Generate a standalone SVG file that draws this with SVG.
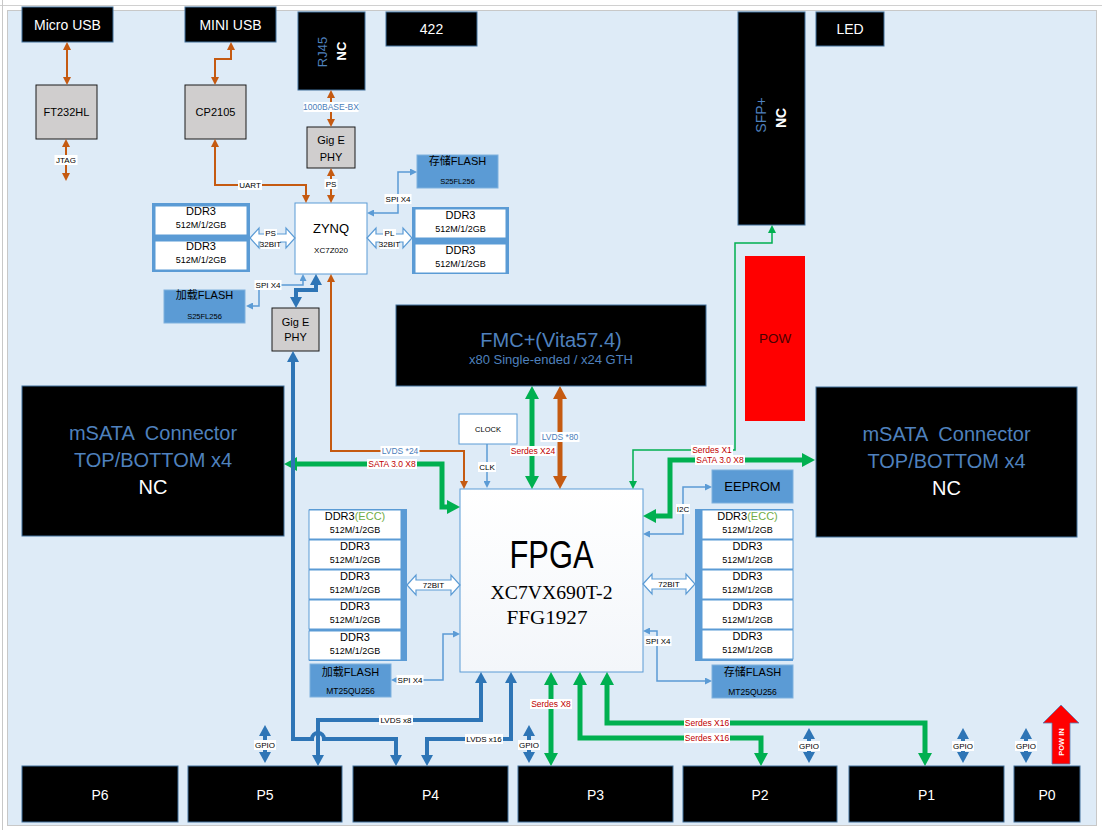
<svg xmlns="http://www.w3.org/2000/svg" width="1102" height="830" viewBox="0 0 1102 830">
<style>
text{font-family:"Liberation Sans","Noto Sans CJK SC",sans-serif}
.blk{fill:#000;stroke:#41719c;stroke-width:1}
.gry{fill:#d0cece;stroke:#1a1a1a;stroke-width:1}
.wb{fill:#fff;stroke:#5b9bd5;stroke-width:1}
.fl{fill:#5b9bd5;stroke:#7fb1de;stroke-width:1}
.frm{fill:#5b9bd5;stroke:none}
.m{text-anchor:middle}
.w{fill:#fff}
.bl{fill:#4f81bd}
.lab{font-size:8px;text-anchor:middle;fill:#000}
.rl{font-size:8.5px;text-anchor:middle;fill:#c00000}
.bll{font-size:8.5px;text-anchor:middle;fill:#4a7ebb}
.bg{fill:#fff}
.o{fill:none;stroke:#c55a11;stroke-width:2}
.oT{fill:none;stroke:#c55a11;stroke-width:5}
.g{fill:none;stroke:#00b050;stroke-width:5}
.gs{fill:none;stroke:#00b050;stroke-width:1.5}
.b{fill:none;stroke:#2e75b6;stroke-width:4}
.bs{fill:none;stroke:#5b9bd5;stroke-width:1.5}
.ha{fill:#fff;stroke:#5b9bd5;stroke-width:1.2}
.d1{font-size:11px;text-anchor:middle}
.d2{font-size:9px;text-anchor:middle}
</style>
<defs>
<marker id="ao" markerUnits="userSpaceOnUse" viewBox="0 0 8 8" markerWidth="8" markerHeight="8" refX="0" refY="4" orient="auto-start-reverse"><path d="M0,0L8,4L0,8z" fill="#c55a11"/></marker>
<marker id="aoT" markerUnits="userSpaceOnUse" viewBox="0 0 13 14" markerWidth="13" markerHeight="14" refX="0" refY="7" orient="auto-start-reverse"><path d="M0,0L13,7L0,14z" fill="#c55a11"/></marker>
<marker id="ag" markerUnits="userSpaceOnUse" viewBox="0 0 13 14" markerWidth="13" markerHeight="14" refX="0" refY="7" orient="auto-start-reverse"><path d="M0,0L13,7L0,14z" fill="#00b050"/></marker>
<marker id="ags" markerUnits="userSpaceOnUse" viewBox="0 0 8 8" markerWidth="8" markerHeight="8" refX="0" refY="4" orient="auto-start-reverse"><path d="M0,0L8,4L0,8z" fill="#00b050"/></marker>
<marker id="ab" markerUnits="userSpaceOnUse" viewBox="0 0 11 12" markerWidth="11" markerHeight="12" refX="0" refY="6" orient="auto-start-reverse"><path d="M0,0L11,6L0,12z" fill="#2e75b6"/></marker>
<marker id="abs" markerUnits="userSpaceOnUse" viewBox="0 0 7 7" markerWidth="7" markerHeight="7" refX="0" refY="3.5" orient="auto-start-reverse"><path d="M0,0L7,3.5L0,7z" fill="#5b9bd5"/></marker>
<linearGradient id="fg" x1="0" y1="0" x2="0" y2="1"><stop offset="0" stop-color="#ffffff"/><stop offset="1" stop-color="#f3f6fa"/></linearGradient>
</defs>

<rect x="0" y="0" width="1102" height="830" fill="#fff"/>
<line x1="0" y1="5.5" x2="1102" y2="5.5" stroke="#d0d0d0"/>
<line x1="2.5" y1="0" x2="2.5" y2="830" stroke="#c8c8c8"/>
<rect x="7.5" y="10.5" width="1089" height="815" fill="#deebf7" stroke="#c8c8c8"/>

<!-- top connectors -->
<g id="node-microusb"><rect class="blk" x="22" y="7" width="91" height="35"/><text class="m w" x="67.5" y="30" font-size="14">Micro USB</text></g>
<g id="node-miniusb"><rect class="blk" x="185" y="7" width="91" height="35"/><text class="m w" x="230.5" y="30" font-size="14">MINI USB</text></g>
<g id="node-rj45"><rect class="blk" x="298" y="12" width="67" height="78"/>
<text class="m bl" font-size="13" transform="translate(327,52) rotate(-90)">RJ45</text>
<text class="m w" font-size="13" font-weight="bold" transform="translate(346,51) rotate(-90)">NC</text></g>
<g id="node-422"><rect class="blk" x="386" y="12" width="91" height="34"/><text class="m w" x="431.5" y="34" font-size="14">422</text></g>
<g id="node-sfp"><rect class="blk" x="738" y="12" width="67" height="213"/>
<text class="m bl" font-size="14" transform="translate(766,115) rotate(-90)">SFP+</text>
<text class="m w" font-size="14" font-weight="bold" transform="translate(786,118) rotate(-90)">NC</text></g>
<g id="node-led"><rect class="blk" x="816" y="12" width="68" height="34"/><text class="m w" x="850" y="34" font-size="14">LED</text></g>

<g id="node-ft232"><rect class="gry" x="36" y="85" width="61" height="54"/><text class="m" x="66.5" y="116" font-size="11">FT232HL</text></g>
<g id="node-cp2105"><rect class="gry" x="185" y="85" width="61" height="54"/><text class="m" x="215.5" y="116" font-size="11">CP2105</text></g>
<g id="node-gige1"><rect class="gry" x="307" y="127" width="48" height="41"/><text class="m" x="331" y="144" font-size="11">Gig E</text><text class="m" x="331" y="161" font-size="11">PHY</text></g>
<g id="node-gige2"><rect class="gry" x="272" y="308" width="47" height="43"/><text class="m" x="295.5" y="326" font-size="11">Gig E</text><text class="m" x="295.5" y="341" font-size="11">PHY</text></g>

<g id="node-zynq"><rect class="wb" x="295" y="203" width="72" height="71"/><text class="m" x="331" y="233" font-size="13">ZYNQ</text><text class="m" x="331" y="253" font-size="8">XC7Z020</text></g>

<g id="node-flash-top"><rect class="fl" x="417" y="155" width="81" height="33"/><text class="m" x="457.5" y="165" font-size="11">存储FLASH</text><text class="m" x="457.5" y="184" font-size="7.5">S25FL256</text></g>
<g id="node-flash-zl"><rect class="fl" x="164" y="290" width="81" height="33"/><text class="m" x="204.5" y="299" font-size="11">加载FLASH</text><text class="m" x="204.5" y="319" font-size="7.5">S25FL256</text></g>

<g id="node-ddr-ps">
<rect class="frm" x="152" y="203" width="98" height="69"/>
<rect class="wb" x="155" y="206" width="92" height="29"/><text class="d1" x="201" y="215">DDR3</text><text class="d2" x="201" y="228">512M/1/2GB</text>
<rect class="wb" x="155" y="241" width="92" height="29"/><text class="d1" x="201" y="250">DDR3</text><text class="d2" x="201" y="263">512M/1/2GB</text>
</g>
<g id="node-ddr-pl">
<rect class="frm" x="412" y="207" width="97" height="67"/>
<rect class="wb" x="415" y="209" width="91" height="29"/><text class="d1" x="460.5" y="219">DDR3</text><text class="d2" x="460.5" y="232">512M/1/2GB</text>
<rect class="wb" x="415" y="244" width="91" height="29"/><text class="d1" x="460.5" y="254">DDR3</text><text class="d2" x="460.5" y="267">512M/1/2GB</text>
</g>

<g id="node-fmc"><rect class="blk" x="396" y="305" width="310" height="81"/><text class="m bl" x="551" y="347" font-size="20">FMC+(Vita57.4)</text><text class="m bl" x="551" y="364" font-size="13">x80 Single-ended / x24 GTH</text></g>

<g id="node-pow"><rect x="745" y="256" width="60" height="165" fill="#ff0000"/><text class="m" x="775" y="343" font-size="13.5" fill="#4a0000">POW</text></g>

<g id="node-msata-l"><rect class="blk" x="22" y="386" width="262" height="150"/>
<text class="m bl" x="153" y="440" font-size="20" xml:space="preserve">mSATA  Connector</text>
<text class="m bl" x="153" y="467" font-size="20">TOP/BOTTOM x4</text>
<text class="m w" x="153" y="494" font-size="20">NC</text></g>
<g id="node-msata-r"><rect class="blk" x="816" y="387" width="261" height="150"/>
<text class="m bl" x="946.5" y="441" font-size="20" xml:space="preserve">mSATA  Connector</text>
<text class="m bl" x="946.5" y="468" font-size="20">TOP/BOTTOM x4</text>
<text class="m w" x="946.5" y="495" font-size="20">NC</text></g>

<g id="node-clock"><rect class="wb" x="459" y="414" width="58" height="30"/><text class="m" x="488" y="432" font-size="7.5">CLOCK</text></g>

<g id="node-fpga"><rect x="460" y="489" width="183" height="183" fill="url(#fg)" stroke="#5b9bd5"/>
<text class="m" x="551.5" y="568" font-size="38" textLength="84" lengthAdjust="spacingAndGlyphs">FPGA</text>
<text class="m" x="551.5" y="599" font-size="19" style="font-family:'Liberation Serif',serif" textLength="122" lengthAdjust="spacingAndGlyphs">XC7VX690T-2</text>
<text class="m" x="547" y="624" font-size="19" style="font-family:'Liberation Serif',serif" textLength="81" lengthAdjust="spacingAndGlyphs">FFG1927</text></g>

<g id="node-eeprom"><rect class="fl" x="712" y="470" width="81" height="33"/><text class="m" x="752.5" y="491" font-size="13">EEPROM</text></g>

<g id="node-ddr-l">
<rect class="frm" x="309" y="509" width="98" height="152"/>
<rect class="wb" x="309" y="510" width="92" height="29"/><text class="d1" x="355" y="520">DDR3<tspan fill="#70ad47">(ECC)</tspan></text><text class="d2" x="355" y="533">512M/1/2GB</text>
<rect class="wb" x="309" y="540" width="92" height="29"/><text class="d1" x="355" y="550">DDR3</text><text class="d2" x="355" y="563">512M/1/2GB</text>
<rect class="wb" x="309" y="570" width="92" height="29"/><text class="d1" x="355" y="580">DDR3</text><text class="d2" x="355" y="593">512M/1/2GB</text>
<rect class="wb" x="309" y="600" width="92" height="29"/><text class="d1" x="355" y="610">DDR3</text><text class="d2" x="355" y="623">512M/1/2GB</text>
<rect class="wb" x="309" y="631" width="92" height="29"/><text class="d1" x="355" y="641">DDR3</text><text class="d2" x="355" y="654">512M/1/2GB</text>
</g>
<g id="node-ddr-r">
<rect class="frm" x="695" y="509" width="98" height="152"/>
<rect class="wb" x="702" y="510" width="91" height="29"/><text class="d1" x="747.5" y="520">DDR3<tspan fill="#70ad47">(ECC)</tspan></text><text class="d2" x="747.5" y="533">512M/1/2GB</text>
<rect class="wb" x="702" y="540" width="91" height="29"/><text class="d1" x="747.5" y="550">DDR3</text><text class="d2" x="747.5" y="563">512M/1/2GB</text>
<rect class="wb" x="702" y="570" width="91" height="29"/><text class="d1" x="747.5" y="580">DDR3</text><text class="d2" x="747.5" y="593">512M/1/2GB</text>
<rect class="wb" x="702" y="600" width="91" height="29"/><text class="d1" x="747.5" y="610">DDR3</text><text class="d2" x="747.5" y="623">512M/1/2GB</text>
<rect class="wb" x="702" y="630" width="91" height="29"/><text class="d1" x="747.5" y="640">DDR3</text><text class="d2" x="747.5" y="653">512M/1/2GB</text>
</g>

<g id="node-flash-fl"><rect class="fl" x="310" y="664" width="81" height="33"/><text class="m" x="350.5" y="676" font-size="11">加载FLASH</text><text class="m" x="350.5" y="694" font-size="8.5">MT25QU256</text></g>
<g id="node-flash-fr"><rect class="fl" x="712" y="665" width="81" height="33"/><text class="m" x="752.5" y="676" font-size="11">存储FLASH</text><text class="m" x="752.5" y="695" font-size="8.5">MT25QU256</text></g>

<g id="node-p6"><rect class="blk" x="22" y="766" width="156" height="56"/><text class="m w" x="100" y="800" font-size="14">P6</text></g>
<g id="node-p5"><rect class="blk" x="188" y="766" width="154" height="56"/><text class="m w" x="265" y="800" font-size="14">P5</text></g>
<g id="node-p4"><rect class="blk" x="353" y="766" width="155" height="56"/><text class="m w" x="430.5" y="800" font-size="14">P4</text></g>
<g id="node-p3"><rect class="blk" x="518" y="766" width="155" height="56"/><text class="m w" x="595.5" y="800" font-size="14">P3</text></g>
<g id="node-p2"><rect class="blk" x="683" y="766" width="154" height="56"/><text class="m w" x="760" y="800" font-size="14">P2</text></g>
<g id="node-p1"><rect class="blk" x="849" y="766" width="155" height="56"/><text class="m w" x="926.5" y="800" font-size="14">P1</text></g>
<g id="node-p0"><rect class="blk" x="1014" y="766" width="66" height="56"/><text class="m w" x="1047" y="800" font-size="14">P0</text></g>

<g id="node-powin"><polygon points="1061,705 1079,723 1070,723 1070,764 1052,764 1052,723 1043,723" fill="#ff0000" stroke="#5a7fb5" stroke-width="0.8"/>
<text class="m w" font-size="7.5" font-weight="bold" transform="translate(1064,742) rotate(-90)">POW IN</text></g>

<g id="connectors">
<!-- orange -->
<path class="o" d="M67,50V77" marker-start="url(#ao)" marker-end="url(#ao)"/>
<path class="o" d="M66,147V173" marker-start="url(#ao)" marker-end="url(#ao)"/>
<path class="o" d="M231,50V59H215V77" marker-start="url(#ao)" marker-end="url(#ao)"/>
<path class="o" d="M331,98V119" marker-start="url(#ao)" marker-end="url(#ao)"/>
<path class="o" d="M215,147V185H306V195" marker-start="url(#ao)" marker-end="url(#ao)"/>
<path class="o" d="M331,176V195" marker-start="url(#ao)" marker-end="url(#ao)"/>
<path class="o" d="M331,282V451H464V481" marker-start="url(#ao)" marker-end="url(#ao)"/>
<path class="oT" d="M560,399V476" marker-start="url(#aoT)" marker-end="url(#aoT)"/>
<!-- green -->
<path class="g" d="M532,399V476" marker-start="url(#ag)" marker-end="url(#ag)"/>
<path class="g" d="M297,464H442V507H447" marker-start="url(#ag)" marker-end="url(#ag)"/>
<path class="g" d="M656,516H670V460H802" marker-start="url(#ag)" marker-end="url(#ag)"/>
<path class="g" d="M551,685V753" marker-start="url(#ag)" marker-end="url(#ag)"/>
<path class="g" d="M607,685V723H925V753" marker-start="url(#ag)" marker-end="url(#ag)"/>
<path class="g" d="M580,685V738H761V753" marker-start="url(#ag)" marker-end="url(#ag)"/>
<path class="gs" d="M633,481V450H735V243H772V233" marker-start="url(#ags)" marker-end="url(#ags)"/>
<!-- blue thick -->
<path class="b" d="M316,285V290H296V297" marker-start="url(#ab)" marker-end="url(#ab)"/>
<path class="b" d="M293,362V739H312A6,6 0 0 1 324,739H396V755" marker-start="url(#ab)" marker-end="url(#ab)"/>
<path class="b" d="M481,683V720H318V755" marker-start="url(#ab)" marker-end="url(#ab)"/>
<path class="b" d="M511,683V739H427V755" marker-start="url(#ab)" marker-end="url(#ab)"/>
<path class="b" d="M265,736V752" marker-start="url(#ab)" marker-end="url(#ab)"/>
<path class="b" d="M529,736V752" marker-start="url(#ab)" marker-end="url(#ab)"/>
<path class="b" d="M809,739V752" marker-start="url(#ab)" marker-end="url(#ab)"/>
<path class="b" d="M963,739V752" marker-start="url(#ab)" marker-end="url(#ab)"/>
<path class="b" d="M1026,739V752" marker-start="url(#ab)" marker-end="url(#ab)"/>
<!-- blue thin -->
<path class="bs" d="M374,213H398V172H410" marker-start="url(#abs)" marker-end="url(#abs)"/>
<path class="bs" d="M303,281V285H259V306H253" marker-start="url(#abs)" marker-end="url(#abs)"/>
<path class="bs" d="M487,444V481" marker-end="url(#abs)"/>
<path class="bs" d="M453,634H443V680H398" marker-start="url(#abs)" marker-end="url(#abs)"/>
<path class="bs" d="M650,534H683V487H705" marker-start="url(#abs)" marker-end="url(#abs)"/>
<path class="bs" d="M650,631H657V681H705" marker-start="url(#abs)" marker-end="url(#abs)"/>
<!-- hollow bus arrows -->
<polygon class="ha" points="250,238 259,228 259,234 286,234 286,228 295,238 286,248 286,242 259,242 259,248"/>
<polygon class="ha" points="367,238 376,228 376,234 403,234 403,228 412,238 403,248 403,242 376,242 376,248"/>
<polygon class="ha" points="407,585 416,575 416,580 451,580 451,575 460,585 451,595 451,590 416,590 416,595"/>
<polygon class="ha" points="643,584 652,574 652,579 686,579 686,574 695,584 686,594 686,589 652,589 652,594"/>

<!-- labels -->
<rect class="bg" x="54.5" y="155" width="23" height="10"/><text class="lab" x="66" y="163">JTAG</text>
<rect class="bg" x="238" y="180" width="24" height="10"/><text class="lab" x="250" y="188">UART</text>
<rect class="bg" x="303.5" y="102" width="55" height="10"/><text class="bll" x="331" y="110" font-size="8">1000BASE-BX</text>
<rect class="bg" x="324.5" y="179" width="13" height="10"/><text class="lab" x="331" y="187">PS</text>
<rect class="bg" x="384.5" y="194" width="27" height="10"/><text class="lab" x="398" y="202">SPI X4</text>
<rect class="bg" x="254.5" y="280" width="27" height="10"/><text class="lab" x="268" y="288">SPI X4</text>
<rect class="bg" x="264" y="229" width="13" height="9"/><text class="lab" x="270.5" y="236">PS</text>
<rect class="bg" x="261" y="240" width="19" height="9"/><text class="lab" x="270.5" y="247" font-size="7.5">32BIT</text>
<rect class="bg" x="383" y="229" width="13" height="9"/><text class="lab" x="389.5" y="236">PL</text>
<rect class="bg" x="380" y="240" width="19" height="9"/><text class="lab" x="389.5" y="247" font-size="7.5">32BIT</text>
<text class="lab" x="433.5" y="588" font-size="7.5">72BIT</text>
<text class="lab" x="669" y="587" font-size="7.5">72BIT</text>
<rect class="bg" x="380.5" y="446" width="39" height="10"/><text class="bll" x="400" y="454">LVDS *24</text>
<rect class="bg" x="367" y="459" width="50" height="10"/><text class="rl" x="392" y="467" font-size="8.3">SATA 3.0 X8</text>
<rect class="bg" x="540.5" y="432" width="39" height="10"/><text class="bll" x="560" y="440">LVDS *80</text>
<rect class="bg" x="510" y="446" width="46" height="10"/><text class="rl" x="533" y="454">Serdes X24</text>
<rect class="bg" x="478" y="462" width="18" height="10"/><text class="lab" x="487" y="470">CLK</text>
<rect class="bg" x="691" y="445" width="42" height="10"/><text class="rl" x="712" y="453">Serdes X1</text>
<rect class="bg" x="695" y="455" width="50" height="10"/><text class="rl" x="720" y="463" font-size="8.3">SATA 3.0 X8</text>
<rect class="bg" x="676" y="504" width="14" height="10"/><text class="lab" x="683" y="512">I2C</text>
<rect class="bg" x="644.5" y="636" width="27" height="10"/><text class="lab" x="658" y="644">SPI X4</text>
<rect class="bg" x="396.5" y="675" width="27" height="10"/><text class="lab" x="410" y="683">SPI X4</text>
<rect class="bg" x="379" y="715" width="34" height="10"/><text class="lab" x="396" y="723">LVDS x8</text>
<rect class="bg" x="465" y="734" width="38" height="10"/><text class="lab" x="484" y="742">LVDS x16</text>
<rect class="bg" x="530" y="699" width="42" height="10"/><text class="rl" x="551" y="707">Serdes X8</text>
<rect class="bg" x="684" y="718" width="46" height="10"/><text class="rl" x="707" y="726">Serdes X16</text>
<rect class="bg" x="684" y="733" width="46" height="10"/><text class="rl" x="707" y="741">Serdes X16</text>
<rect class="bg" x="254" y="740" width="22" height="10"/><text class="lab" x="265" y="748">GPIO</text>
<rect class="bg" x="518" y="740" width="22" height="10"/><text class="lab" x="529" y="748">GPIO</text>
<rect class="bg" x="798" y="741" width="22" height="10"/><text class="lab" x="809" y="749">GPIO</text>
<rect class="bg" x="952" y="741" width="22" height="10"/><text class="lab" x="963" y="749">GPIO</text>
<rect class="bg" x="1015" y="741" width="22" height="10"/><text class="lab" x="1026" y="749">GPIO</text>
</g>
</svg>
